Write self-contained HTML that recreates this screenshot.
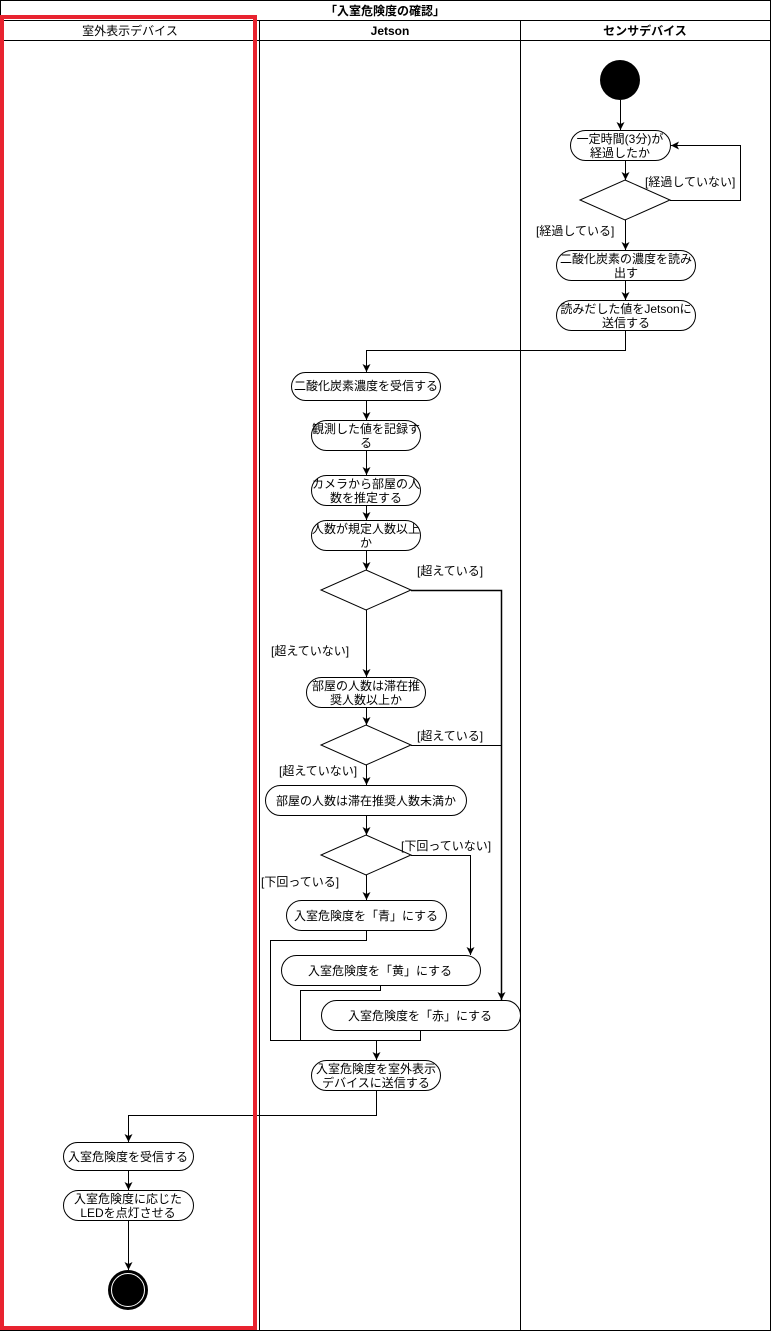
<!DOCTYPE html>
<html><head><meta charset="utf-8"><style>
html,body{margin:0;padding:0;background:#fff}
svg{display:block}
text{font-family:"Liberation Sans","Noto Sans CJK JP",sans-serif;font-size:12px;fill:#000}
</style></head><body>
<svg width="771" height="1331" viewBox="0 0 771 1331" xmlns="http://www.w3.org/2000/svg">
<defs><marker id="a" markerWidth="10" markerHeight="10" refX="8" refY="4" orient="auto" markerUnits="userSpaceOnUse"><path d="M0,0 L8,4 L0,8 L2,4 z" fill="#000"/></marker></defs>
<g fill="none" stroke="#000" stroke-width="1">
<rect x="0.5" y="0.5" width="770" height="1330"/>
<line x1="0" y1="20.5" x2="771" y2="20.5"/>
<line x1="0" y1="40.5" x2="771" y2="40.5"/>
<line x1="259.5" y1="20" x2="259.5" y2="1331"/>
<line x1="520.5" y1="20" x2="520.5" y2="1331"/>
</g>
<text x="385" y="15" text-anchor="middle" font-weight="bold">「入室危険度の確認」</text>
<text x="130" y="35" text-anchor="middle">室外表示デバイス</text>
<text x="390" y="35" text-anchor="middle" font-weight="bold">Jetson</text>
<text x="645" y="35" text-anchor="middle" font-weight="bold">センサデバイス</text>

<g fill="#fff" stroke="#000" stroke-width="1">
<rect x="570.5" y="130.5" width="100" height="30" rx="15"/>
<polygon points="625,180 670,200 625,220 580,200"/>
<rect x="556.5" y="250.5" width="139" height="30" rx="15"/>
<rect x="556.5" y="300.5" width="139" height="30" rx="15"/>
<rect x="291.5" y="372.5" width="149" height="28" rx="14"/>
<rect x="311.5" y="420.5" width="109" height="30" rx="15"/>
<rect x="311.5" y="475.5" width="109" height="30" rx="15"/>
<rect x="311.5" y="520.5" width="109" height="30" rx="15"/>
<polygon points="366,570 411,590 366,610 321,590"/>
<rect x="306.5" y="677.5" width="119" height="30" rx="15"/>
<polygon points="366,725 411,745 366,765 321,745"/>
<rect x="265.5" y="785.5" width="201" height="30" rx="15"/>
<polygon points="366,835 411,855 366,875 321,855"/>
<rect x="286.5" y="900.5" width="160" height="30" rx="15"/>
<rect x="281.5" y="955.5" width="199" height="30" rx="15"/>
<rect x="321.5" y="1000.5" width="199" height="30" rx="15"/>
<rect x="311.5" y="1060.5" width="129" height="30" rx="15"/>
<rect x="63.5" y="1142.5" width="130" height="28" rx="14"/>
<rect x="63.5" y="1190.5" width="130" height="30" rx="15"/>
</g>
<circle cx="620" cy="80" r="20" fill="#000"/>
<circle cx="128" cy="1290" r="20" fill="#000"/>
<circle cx="128" cy="1290" r="16.5" fill="none" stroke="#fff" stroke-width="1"/>

<g fill="none" stroke="#000" stroke-width="1" marker-end="url(#a)">
<path d="M620.5 100 V130"/>
<path d="M625.5 160 V180"/>
<path d="M670 200.5 H740.5 V145.5 H671"/>
<path d="M625.5 220 V250"/>
<path d="M625.5 280 V300"/>
<path d="M625.5 330 V350.5 H366.5 V372"/>
<path d="M366.5 400 V420"/>
<path d="M366.5 450 V475"/>
<path d="M366.5 505 V520"/>
<path d="M366.5 550 V570"/>
<path d="M411 590.5 H501.5 V1000" stroke-width="1.5"/>
<path d="M366.5 610 V677"/>
<path d="M366.5 707 V725"/>
<path d="M366.5 765 V785"/>
<path d="M366.5 815 V835"/>
<path d="M411 855.5 H470.5 V955"/>
<path d="M366.5 875 V900"/>
<path d="M376.5 1040 V1060"/>
<path d="M376.5 1090 V1115.5 H128.5 V1142"/>
<path d="M128.5 1170 V1190"/>
<path d="M128.5 1220 V1270"/>
</g>
<g fill="none" stroke="#000" stroke-width="1">
<path d="M411 745.5 H501.5"/>
<path d="M366.5 930 V940.5 H270.5 V1040.5 H376.5"/>
<path d="M380.5 985 V990.5 H300.5 V1040.5"/>
<path d="M420.5 1030 V1040.5 H376.5"/>
</g>
<rect x="2" y="17" width="253" height="1311" fill="none" stroke="#e8232f" stroke-width="4"/>

<g text-anchor="middle">
<text x="620" y="143">一定時間(3分)が</text><text x="620" y="157">経過したか</text>
<text x="626" y="263">二酸化炭素の濃度を読み</text><text x="626" y="277">出す</text>
<text x="626" y="313">読みだした値をJetsonに</text><text x="626" y="327">送信する</text>
<text x="366" y="390">二酸化炭素濃度を受信する</text>
<text x="366" y="433">観測した値を記録す</text><text x="366" y="447">る</text>
<text x="366" y="488">カメラから部屋の人</text><text x="366" y="502">数を推定する</text>
<text x="366" y="533">人数が規定人数以上</text><text x="366" y="547">か</text>
<text x="366" y="690">部屋の人数は滞在推</text><text x="366" y="704">奨人数以上か</text>
<text x="366" y="805">部屋の人数は滞在推奨人数未満か</text>
<text x="366" y="920">入室危険度を「青」にする</text>
<text x="380" y="975">入室危険度を「黄」にする</text>
<text x="420" y="1020">入室危険度を「赤」にする</text>
<text x="376" y="1073">入室危険度を室外表示</text><text x="376" y="1087">デバイスに送信する</text>
<text x="128" y="1161">入室危険度を受信する</text>
<text x="128" y="1203">入室危険度に応じた</text><text x="128" y="1217">LEDを点灯させる</text>
</g>
<text x="645" y="186">[経過していない]</text>
<text x="536" y="235">[経過している]</text>
<text x="417" y="575">[超えている]</text>
<text x="271" y="655">[超えていない]</text>
<text x="417" y="740">[超えている]</text>
<text x="279" y="775">[超えていない]</text>
<text x="401" y="850">[下回っていない]</text>
<text x="261" y="886">[下回っている]</text>
</svg>
</body></html>
